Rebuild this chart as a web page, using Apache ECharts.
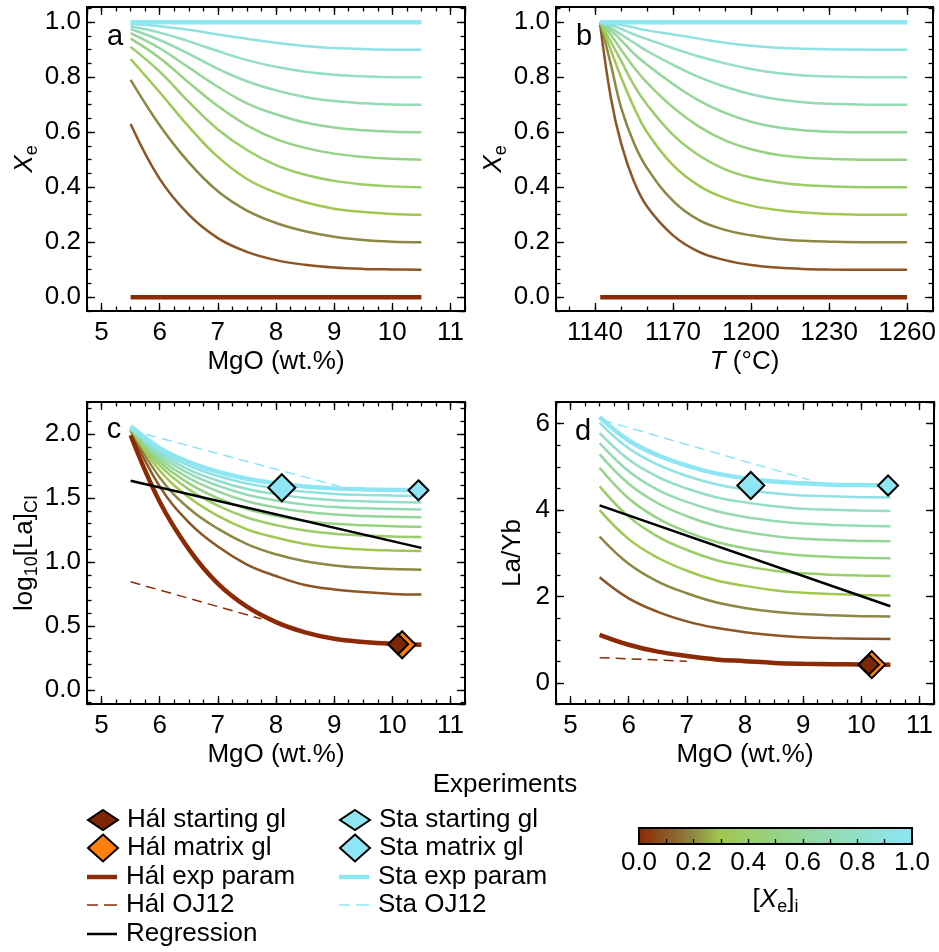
<!DOCTYPE html>
<html>
<head>
<meta charset="utf-8">
<script src="https://cdn.jsdelivr.net/npm/echarts@6/dist/echarts.min.js"></script>
<style>
html, body { margin: 0; padding: 0; background: #fff; }
#chart { width: 939px; height: 952px; }
</style>
</head>
<body>
<div id="chart"></div>
<script>
var FONT = 'Liberation Sans';
var FS = 26;

// [Xe]i levels and the colour of each curve
var xiLevels = [0, 0.1, 0.2, 0.3, 0.4, 0.5, 0.6, 0.7, 0.8, 0.9, 1.0];
var xiColors = ['#8b2a05', '#8c5523', '#8c8741', '#a0c850', '#9bcd69', '#96d282',
                '#94d69b', '#94dab4', '#92dec8', '#8fe2e1', '#8ee6f5'];

var mgoSteps = [5.5, 6, 6.5, 7, 7.5, 8, 8.5, 9, 9.5, 10, 10.5];
var tempSteps = [1142, 1146, 1150, 1155, 1160, 1170, 1180, 1190, 1200, 1210, 1220, 1230, 1245, 1260];

// panel a: Xe vs MgO (one row per [Xe]i)
var xeByMgo = [
  [0, 0, 0, 0, 0, 0, 0, 0, 0, 0, 0],
  [0.63, 0.43, 0.30, 0.215, 0.165, 0.135, 0.118, 0.108, 0.103, 0.101, 0.10],
  [0.79, 0.625, 0.49, 0.385, 0.315, 0.27, 0.24, 0.22, 0.208, 0.202, 0.20],
  [0.866, 0.745, 0.62, 0.51, 0.43, 0.38, 0.345, 0.322, 0.31, 0.303, 0.30],
  [0.91, 0.82, 0.71, 0.61, 0.535, 0.48, 0.445, 0.423, 0.41, 0.403, 0.40],
  [0.94, 0.87, 0.78, 0.695, 0.625, 0.575, 0.543, 0.522, 0.51, 0.503, 0.50],
  [0.96, 0.905, 0.835, 0.765, 0.705, 0.665, 0.635, 0.617, 0.607, 0.602, 0.60],
  [0.975, 0.935, 0.885, 0.83, 0.785, 0.752, 0.728, 0.713, 0.705, 0.701, 0.70],
  [0.985, 0.962, 0.93, 0.895, 0.862, 0.838, 0.82, 0.809, 0.803, 0.80, 0.80],
  [0.994, 0.985, 0.972, 0.955, 0.94, 0.925, 0.913, 0.906, 0.902, 0.90, 0.90],
  [1, 1, 1, 1, 1, 1, 1, 1, 1, 1, 1]
];

// panel b: Xe vs T
var xeByTemp = [
  [0, 0, 0, 0, 0, 0, 0, 0, 0, 0, 0, 0, 0, 0],
  [0.99, 0.73, 0.56, 0.42, 0.33, 0.225, 0.165, 0.135, 0.117, 0.108, 0.103, 0.101, 0.10, 0.10],
  [1.0, 0.85, 0.69, 0.56, 0.47, 0.35, 0.28, 0.245, 0.225, 0.212, 0.205, 0.202, 0.20, 0.20],
  [1.0, 0.90, 0.80, 0.69, 0.60, 0.48, 0.405, 0.36, 0.333, 0.317, 0.308, 0.303, 0.30, 0.30],
  [1.0, 0.93, 0.86, 0.77, 0.70, 0.59, 0.515, 0.465, 0.435, 0.418, 0.408, 0.403, 0.40, 0.40],
  [1.0, 0.955, 0.90, 0.835, 0.78, 0.69, 0.62, 0.57, 0.538, 0.518, 0.508, 0.503, 0.50, 0.50],
  [1.0, 0.97, 0.935, 0.885, 0.845, 0.775, 0.715, 0.67, 0.638, 0.618, 0.607, 0.602, 0.60, 0.60],
  [1.0, 0.98, 0.955, 0.925, 0.895, 0.845, 0.80, 0.765, 0.738, 0.72, 0.709, 0.703, 0.70, 0.70],
  [1.0, 0.99, 0.975, 0.955, 0.938, 0.905, 0.875, 0.85, 0.83, 0.815, 0.806, 0.802, 0.80, 0.80],
  [1.0, 0.995, 0.99, 0.98, 0.97, 0.955, 0.94, 0.925, 0.914, 0.907, 0.903, 0.901, 0.90, 0.90],
  [1, 1, 1, 1, 1, 1, 1, 1, 1, 1, 1, 1, 1, 1]
];

// panel c: log10[La]CI vs MgO
var laByMgo = [
  [1.99, 1.47, 1.10, 0.83, 0.65, 0.53, 0.45, 0.40, 0.375, 0.36, 0.353],
  [2.03, 1.59, 1.31, 1.12, 0.98, 0.89, 0.82, 0.785, 0.765, 0.75, 0.745],
  [2.035, 1.66, 1.42, 1.26, 1.14, 1.06, 1.005, 0.973, 0.955, 0.945, 0.94],
  [2.04, 1.715, 1.505, 1.36, 1.255, 1.19, 1.14, 1.113, 1.098, 1.09, 1.085],
  [2.04, 1.755, 1.567, 1.44, 1.347, 1.288, 1.246, 1.22, 1.207, 1.199, 1.195],
  [2.045, 1.783, 1.614, 1.498, 1.414, 1.36, 1.321, 1.298, 1.287, 1.279, 1.275],
  [2.045, 1.809, 1.656, 1.552, 1.475, 1.426, 1.392, 1.371, 1.36, 1.353, 1.35],
  [2.05, 1.832, 1.692, 1.596, 1.525, 1.48, 1.448, 1.429, 1.42, 1.413, 1.41],
  [2.05, 1.851, 1.722, 1.635, 1.57, 1.53, 1.50, 1.483, 1.474, 1.468, 1.465],
  [2.055, 1.87, 1.753, 1.672, 1.613, 1.575, 1.548, 1.532, 1.524, 1.519, 1.516],
  [2.06, 1.89, 1.78, 1.705, 1.65, 1.615, 1.59, 1.575, 1.568, 1.563, 1.56]
];

// panel d: La/Yb vs MgO
var laybByMgo = [
  [1.12, 0.89, 0.73, 0.63, 0.55, 0.51, 0.47, 0.45, 0.44, 0.435, 0.43],
  [2.45, 1.96, 1.65, 1.43, 1.28, 1.18, 1.11, 1.06, 1.04, 1.03, 1.02],
  [3.39, 2.76, 2.35, 2.08, 1.87, 1.74, 1.65, 1.60, 1.57, 1.55, 1.54],
  [4.0, 3.33, 2.90, 2.60, 2.38, 2.25, 2.15, 2.09, 2.06, 2.04, 2.03],
  [4.55, 3.85, 3.39, 3.08, 2.85, 2.71, 2.60, 2.54, 2.51, 2.49, 2.48],
  [4.98, 4.27, 3.81, 3.50, 3.27, 3.12, 3.02, 2.95, 2.92, 2.90, 2.89],
  [5.29, 4.61, 4.16, 3.86, 3.64, 3.50, 3.40, 3.34, 3.31, 3.29, 3.28],
  [5.55, 4.90, 4.47, 4.19, 3.98, 3.84, 3.75, 3.69, 3.66, 3.64, 3.63],
  [5.78, 5.17, 4.77, 4.50, 4.30, 4.18, 4.09, 4.03, 4.01, 3.99, 3.98],
  [6.02, 5.43, 5.05, 4.79, 4.60, 4.48, 4.39, 4.34, 4.32, 4.30, 4.29],
  [6.15, 5.61, 5.27, 5.03, 4.85, 4.74, 4.66, 4.62, 4.59, 4.58, 4.57]
];

// regression lines and OJ12 model lines [MgO, value]
var regressionC = [[5.5, 1.635], [10.5, 1.11]];
var regressionD = [[5.5, 4.11], [10.5, 1.78]];
var halOJ12C = [[5.5, 0.845], [7.75, 0.555]];
var staOJ12C = [[5.5, 2.03], [9.1, 1.59]];
var halOJ12D = [[5.5, 0.59], [7.0, 0.51]];
var staOJ12D = [[5.55, 6.08], [9.1, 4.70]];

// experiments [MgO, value]
var halStartC = [[10.10, 0.357]];
var halMatrixC = [[10.17, 0.353]];
var staStartC = [[10.45, 1.56]];
var staMatrixC = [[8.10, 1.58]];
var halStartD = [[10.13, 0.43]];
var halMatrixD = [[10.18, 0.43]];
var staStartD = [[10.46, 4.57]];
var staMatrixD = [[8.10, 4.57]];

var colorbarTicks = [0, 0.2, 0.4, 0.6, 0.8, 1.0];

var chart = echarts.init(document.getElementById('chart'));

var rich = {
  it: { fontStyle: 'italic', fontSize: FS, fontFamily: FONT, color: '#000' },
  sub: { fontSize: 18, fontFamily: FONT, color: '#000', padding: [14, 0, 0, 0] }
};

var panels = [
  { grid: { left: 87, top: 7, width: 378, height: 304 },
    x: [4.75, 11.25, 1, 0.25], y: [-0.05, 1.055, 0.2, 0.05], yDigits: 1, xDigits: 0,
    xName: 'MgO (wt.%)', yName: '{it|X}{sub|e}', yGap: 44 },
  { grid: { left: 556, top: 7, width: 378, height: 304 },
    x: [1125, 1270, 30, 10], y: [-0.05, 1.055, 0.2, 0.05], yDigits: 1, xDigits: 0,
    xName: '{it|T} (°C)', yName: '{it|X}{sub|e}', yGap: 44 },
  { grid: { left: 87, top: 402, width: 378, height: 302 },
    x: [4.75, 11.25, 1, 0.25], y: [-0.11, 2.25, 0.5, 0.1], yDigits: 1, xDigits: 0,
    xName: 'MgO (wt.%)', yName: 'log{sub|10}[La]{sub|CI}', yGap: 42 },
  { grid: { left: 556, top: 402, width: 378, height: 302 },
    x: [4.75, 11.25, 1, 0.25], y: [-0.48, 6.5, 2, 0.5], yDigits: 0, xDigits: 0,
    xName: 'MgO (wt.%)', yName: 'La/Yb', yGap: 30 }
];

var grids = [], xAxes = [], yAxes = [], series = [];

function makeAxis(gi, pos, range, step, major, label, name, gap, digits) {
  var ax = {
    gridIndex: gi, type: 'value', position: pos, min: range[0], max: range[1],
    minInterval: step, maxInterval: step, z: 5,
    splitLine: { show: false },
    axisLine: { show: major, onZero: false, lineStyle: { color: '#000', width: 2 } },
    axisTick: { show: true, inside: true, length: major ? 8 : 4.5,
                lineStyle: { color: '#000', width: 1.3 } },
    axisLabel: { show: false }
  };
  if (label) {
    ax.axisLabel = {
      show: true, showMinLabel: false, showMaxLabel: false,
      fontSize: FS, fontFamily: FONT, color: '#000',
      margin: (pos === 'bottom') ? 9 : 6,
      formatter: function (v) { return v.toFixed(digits); }
    };
    ax.name = name;
    ax.nameLocation = 'middle';
    ax.nameGap = gap;
    ax.nameTextStyle = { fontSize: FS, fontFamily: FONT, color: '#000', rich: rich };
  }
  return ax;
}

panels.forEach(function (p, gi) {
  grids.push(p.grid);
  xAxes.push(makeAxis(gi, 'bottom', p.x, p.x[2], true, true, p.xName, 38, p.xDigits));
  xAxes.push(makeAxis(gi, 'bottom', p.x, p.x[3], false, false));
  xAxes.push(makeAxis(gi, 'top', p.x, p.x[2], true, false));
  xAxes.push(makeAxis(gi, 'top', p.x, p.x[3], false, false));
  yAxes.push(makeAxis(gi, 'left', p.y, p.y[2], true, true, p.yName, p.yGap, p.yDigits));
  yAxes.push(makeAxis(gi, 'left', p.y, p.y[3], false, false));
  yAxes.push(makeAxis(gi, 'right', p.y, p.y[2], true, false));
  yAxes.push(makeAxis(gi, 'right', p.y, p.y[3], false, false));
});

function pairs(xs, ys) {
  return xs.map(function (x, i) { return [x, ys[i]]; });
}

function addCurves(gi, xs, rows) {
  rows.forEach(function (ys, k) {
    var thick = (k === 0 || k === rows.length - 1);
    series.push({
      type: 'line',
      name: k === 0 ? 'Hál exp param' : (thick ? 'Sta exp param' : 'Xe_i ' + xiLevels[k]),
      xAxisIndex: gi * 4, yAxisIndex: gi * 4,
      data: pairs(xs, ys),
      symbol: 'none', smooth: 0.4, silent: true,
      lineStyle: { color: xiColors[k], width: thick ? 4.5 : 2.5 },
      itemStyle: { color: xiColors[k] },
      z: thick ? 3 : 2
    });
  });
}

addCurves(0, mgoSteps, xeByMgo);
addCurves(1, tempSteps, xeByTemp);
addCurves(2, mgoSteps, laByMgo);
addCurves(3, mgoSteps, laybByMgo);

function addLine(gi, name, data, color, width, dashed) {
  series.push({
    type: 'line', name: name, xAxisIndex: gi * 4, yAxisIndex: gi * 4,
    data: data, symbol: 'none', silent: true,
    lineStyle: { color: color, width: width, type: dashed ? [10, 6] : 'solid' },
    itemStyle: { color: color }, z: 4
  });
}

function addMarker(gi, name, data, color, size, z) {
  series.push({
    type: 'scatter', name: name, xAxisIndex: gi * 4, yAxisIndex: gi * 4,
    data: data, symbol: 'diamond', symbolSize: size, silent: true,
    itemStyle: { color: color, borderColor: '#000', borderWidth: 2, opacity: 1 },
    z: z
  });
}

addLine(2, 'Regression', regressionC, '#000', 2.5, false);
addLine(2, 'Hál OJ12', halOJ12C, xiColors[0], 1.5, true);
addLine(2, 'Sta OJ12', staOJ12C, xiColors[10], 1.5, true);
addLine(3, 'Regression', regressionD, '#000', 2.5, false);
addLine(3, 'Hál OJ12', halOJ12D, xiColors[0], 1.5, true);
addLine(3, 'Sta OJ12', staOJ12D, xiColors[10], 1.5, true);

addMarker(2, 'Hál matrix gl', halMatrixC, '#ff7f0e', 27, 6);
addMarker(2, 'Hál starting gl', halStartC, '#7f2704', 20, 7);
addMarker(2, 'Sta matrix gl', staMatrixC, '#8ee6f5', 27, 7);
addMarker(2, 'Sta starting gl', staStartC, '#8ee6f5', 20, 7);
addMarker(3, 'Hál matrix gl', halMatrixD, '#ff7f0e', 27, 6);
addMarker(3, 'Hál starting gl', halStartD, '#7f2704', 20, 7);
addMarker(3, 'Sta matrix gl', staMatrixD, '#8ee6f5', 27, 7);
addMarker(3, 'Sta starting gl', staStartD, '#8ee6f5', 20, 7);

// colorbar
grids.push({ left: 639, top: 828, width: 273, height: 16 });
xAxes.push({
  gridIndex: 4, type: 'value', min: 0, max: 1, interval: 0.1, position: 'bottom', z: 5,
  splitLine: { show: false },
  axisLine: { show: false, onZero: false },
  axisTick: { show: true, inside: true, length: 5, lineStyle: { color: '#000', width: 1.3 } },
  axisLabel: {
    fontSize: FS, fontFamily: FONT, color: '#000', margin: 6,
    formatter: function (v) {
      var hit = colorbarTicks.some(function (t) { return Math.abs(t - v) < 1e-6; });
      return hit ? v.toFixed(1) : '';
    }
  },
  name: '[{it|X}{sub|e}]{sub|i}', nameLocation: 'middle', nameGap: 40,
  nameTextStyle: { fontSize: FS, fontFamily: FONT, color: '#000', rich: rich }
});
yAxes.push({ gridIndex: 4, type: 'value', min: 0, max: 1, show: false });
series.push({
  type: 'custom', name: 'colorbar', xAxisIndex: 16, yAxisIndex: 16, silent: true,
  data: [[0, 1]], z: 1,
  renderItem: function (params, api) {
    var a = api.coord([api.value(0), 0]);
    var b = api.coord([api.value(1), 1]);
    var stops = xiLevels.map(function (v, i) { return { offset: v, color: xiColors[i] }; });
    return {
      type: 'rect',
      shape: { x: a[0], y: b[1], width: b[0] - a[0], height: a[1] - b[1] },
      style: { fill: new echarts.graphic.LinearGradient(0, 0, 1, 0, stops), stroke: '#000', lineWidth: 2 }
    };
  }
});

// legend, one block per entry so the two columns line up
var SOLID = 'path://M0,0h30v2h-30z';
var DASHED = 'path://M0,0h11v2h-11zM17,0h13v2h-13z';
var legendEntries = [
  { name: 'Hál starting gl', col: 0, row: 0, h: 20 },
  { name: 'Hál matrix gl', col: 0, row: 1, h: 27 },
  { name: 'Hál exp param', col: 0, row: 2, h: 4.5, icon: SOLID },
  { name: 'Hál OJ12', col: 0, row: 3, h: 1.6, icon: DASHED },
  { name: 'Regression', col: 0, row: 4, h: 2.5, icon: SOLID },
  { name: 'Sta starting gl', col: 1, row: 0, h: 20 },
  { name: 'Sta matrix gl', col: 1, row: 1, h: 27 },
  { name: 'Sta exp param', col: 1, row: 2, h: 4.5, icon: SOLID },
  { name: 'Sta OJ12', col: 1, row: 3, h: 1.6, icon: DASHED }
];
var legendRowY = [819, 847, 876, 904, 933];
var legendColX = [87, 339];

var legends = legendEntries.map(function (e) {
  var item = e.icon ? { name: e.name, icon: e.icon } : { name: e.name };
  return {
    left: legendColX[e.col], top: legendRowY[e.row] - Math.max(e.h, 24) / 2, padding: 0,
    itemWidth: 30, itemHeight: e.h, selectedMode: false,
    symbolKeepAspect: !e.icon,
    data: [item],
    itemStyle: e.icon ? { borderWidth: 0 } : { borderWidth: 2 },
    textStyle: { fontSize: FS, fontFamily: FONT, color: '#000', padding: [0, 0, 0, 4] }
  };
});

function txt(x, y, s, size) {
  return { type: 'text', x: x, y: y,
    style: { text: s, fontSize: size, fontFamily: FONT, fill: '#000', align: 'center', verticalAlign: 'middle' } };
}

chart.setOption({
  animation: false,
  backgroundColor: '#fff',
  textStyle: { fontFamily: FONT, color: '#000' },
  grid: grids,
  xAxis: xAxes,
  yAxis: yAxes,
  legend: legends,
  graphic: [
    txt(115, 37, 'a', 29), txt(584, 37, 'b', 29),
    txt(114, 430, 'c', 29), txt(583, 432, 'd', 29),
    txt(505, 785, 'Experiments', FS)
  ],
  series: series
});
</script>
</body>
</html>
